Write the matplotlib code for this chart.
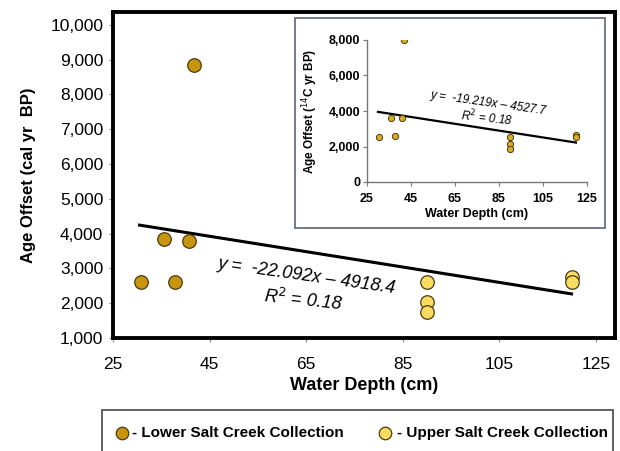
import matplotlib.pyplot as plt
from matplotlib.patches import Rectangle
from matplotlib.ticker import FuncFormatter

# Main panel: calibrated age offset (cal yr BP)
lower_depth = [30.7, 35.6, 37.8, 40.8, 41.7]
lower_offset = [2600, 3840, 2600, 3780, 8850]
upper_depth = [90, 90, 90, 120, 120]
upper_offset = [2600, 2030, 1750, 2750, 2600]
main_slope, main_icpt = -22.092, 4918.4
main_fit_x = [30.5, 120]

# Inset: radiocarbon age offset (14C yr BP)
inset_depth = [30.5, 36, 37.7, 41, 42, 90, 90, 90, 120, 120]
inset_offset = [2530, 3600, 2590, 3600, 8000, 2530, 2140, 1860, 2650, 2540]
inset_slope, inset_icpt = -19.219, 4527.7
inset_fit_x = [30, 120]

main_yticks = [1000, 2000, 3000, 4000, 5000, 6000, 7000, 8000, 9000, 10000]
xticks = [25, 45, 65, 85, 105, 125]
inset_yticks = [0, 2000, 4000, 6000, 8000]

FONT = ['Liberation Sans', 'DejaVu Sans']
plt.rcParams['font.family'] = FONT

lower_col = '#c8960e'
upper_col = '#f8dc62'
edge_col = '#4a3a12'

fig = plt.figure(figsize=(6.2, 4.51), dpi=100)

def fig_px(x, y):
    # reference pixel (from top-left) -> figure fraction
    return x / 620, 1 - y / 451

# ---------------- main axes
ax = fig.add_axes([113/620, 1 - 338/451, (615-113)/620, (338-12)/451])
ax.scatter(lower_depth, lower_offset, s=95, c=lower_col, edgecolors=edge_col,
           linewidths=0.9, zorder=3)
ax.scatter(upper_depth, upper_offset, s=95, c=upper_col, edgecolors=edge_col,
           linewidths=0.9, zorder=3)
ax.plot(main_fit_x, [main_slope*x + main_icpt for x in main_fit_x],
        color='black', lw=2.2, zorder=2)
ax.set_xlim(25, 129)
ax.set_ylim(1000, 10370)
ax.set_xticks(xticks)
ax.set_yticks(main_yticks)
ax.yaxis.set_major_formatter(FuncFormatter(lambda v, p: '{:,.0f}'.format(v)))
for sp in ax.spines.values():
    sp.set_linewidth(2.8)
    sp.set_color('black')
ax.tick_params(axis='both', labelsize=12.5, length=3, width=0.8,
               color='#888888', pad=4)
ax.tick_params(axis='x', pad=11)
ax.set_xlabel('Water Depth (cm)', fontsize=13, fontweight='bold', labelpad=3)
ax.set_ylabel('Age Offset (cal yr  BP)', fontsize=12, fontweight='bold',
              labelpad=10)
fig.text(*fig_px(306, 276), 'y =  -22.092x \u2013 4918.4', fontsize=13,
         style='italic', rotation=-8, ha='center', va='center')
fig.text(*fig_px(303, 300), 'R$^2$ = 0.18', fontsize=13, style='italic',
         rotation=-6, ha='center', va='center')

# ---------------- inset frame
frame = Rectangle((295/620, 1 - 228/451), 310/620, 210/451,
                  transform=fig.transFigure, fill=True, facecolor='white',
                  edgecolor='#6a6f80', lw=1.3, zorder=5)
fig.patches.append(frame)

ins = fig.add_axes([367/620, 1 - 182/451, (587-367)/620, (182-40)/451])
ins.set_zorder(6)
ins.patch.set_alpha(0)
ins.scatter(inset_depth, inset_offset, s=20, c='#dcae1e', edgecolors=edge_col,
            linewidths=0.7, zorder=3)
ins.plot(inset_fit_x, [inset_slope*x + inset_icpt for x in inset_fit_x],
         color='black', lw=1.6, zorder=2)
ins.set_xlim(25, 125)
ins.set_ylim(0, 8000)
ins.set_xticks(xticks)
ins.set_yticks(inset_yticks)
ins.yaxis.set_major_formatter(FuncFormatter(lambda v, p: '{:,.0f}'.format(v)))
ins.spines['top'].set_visible(False)
ins.spines['right'].set_visible(False)
for s in ['left', 'bottom']:
    ins.spines[s].set_color('#777777')
    ins.spines[s].set_linewidth(1.0)
ins.tick_params(axis='both', labelsize=9, length=3, width=0.8,
                color='#777777', pad=2)
ins.tick_params(axis='x', pad=5)
for lab in ins.get_xticklabels() + ins.get_yticklabels():
    lab.set_fontweight('bold')
ins.set_xlabel('Water Depth (cm)', fontsize=9, fontweight='bold', labelpad=2)
ins.set_ylabel('Age Offset ($^{14}$C yr BP)', fontsize=8.5, fontweight='bold',
               labelpad=6)
ins.text(80, 4450, 'y =  -19.219x \u2013 4527.7', fontsize=8.5, style='italic',
         rotation=-8, ha='center', va='center', zorder=4)
ins.text(79.5, 3600, 'R$^2$ = 0.18', fontsize=8.5, style='italic', rotation=-6,
         ha='center', va='center', zorder=4)

# ---------------- legend box (cut at bottom of image)
leg_box = Rectangle((102/620, -0.05), (613-102)/620, 0.05 + 1 - 410/451,
                    transform=fig.transFigure, fill=False,
                    edgecolor='#555555', lw=1.3)
fig.patches.append(leg_box)
fig.add_artist(plt.Line2D([122/620], [1 - 433/451], marker='o', ms=9,
                          mfc=lower_col, mec=edge_col, mew=0.9,
                          transform=fig.transFigure))
fig.add_artist(plt.Line2D([385/620], [1 - 433/451], marker='o', ms=9,
                          mfc=upper_col, mec=edge_col, mew=0.9,
                          transform=fig.transFigure))
fig.text(*fig_px(132, 433), '- Lower Salt Creek Collection', fontsize=11,
         fontweight='bold', va='center', ha='left')
fig.text(*fig_px(397, 433), '- Upper Salt Creek Collection', fontsize=11,
         fontweight='bold', va='center', ha='left')

fig.savefig('out.png', dpi=100)
